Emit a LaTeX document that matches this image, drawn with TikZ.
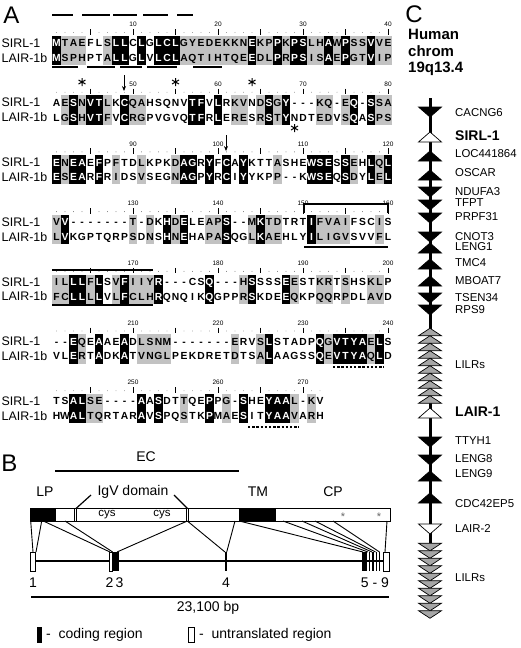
\documentclass[tikz,border=0pt]{standalone}
\usepackage{fontspec}
\setmainfont{Liberation Sans}
\usetikzlibrary{arrows.meta}
\tikzset{
  res/.style={font=\fontsize{10.3}{10}\selectfont\bfseries, inner sep=0pt, anchor=base},
  shadegray/.style={fill=black!24},
  lbl/.style={font=\fontsize{12.4}{12}\selectfont, inner sep=0pt, anchor=west},
  panel/.style={font=\fontsize{24}{24}\selectfont, inner sep=0pt},
  rnum/.style={font=\fontsize{6.5}{6.5}\selectfont, inner sep=0pt},
  bar/.style={line width=2.2pt},
  dotbar/.style={line width=2.6pt, dash pattern=on 2.4pt off 1.8pt},
  glbl/.style={font=\fontsize{11.4}{11.4}\selectfont, inner sep=0pt, anchor=west},
  gbold/.style={font=\fontsize{14}{14}\selectfont\bfseries, inner sep=0pt, anchor=west},
  btext/.style={font=\fontsize{14}{14}\selectfont, inner sep=0pt},
  chead/.style={font=\fontsize{15}{15}\selectfont\bfseries, inner sep=0pt, anchor=west},
  thinl/.style={line width=0.9pt},
}
\makeatletter
\newcount\cellidx
\def\popA#1#2\@nil{\def\chA{#1}\def\sA{#2}}
\def\popB#1#2\@nil{\def\chB{#1}\def\sB{#2}}
\def\popC#1#2\@nil{\def\chC{#1}\def\sC{#2}}
\newcommand\alnblock[5]{%
  \def\blkid{#1}\def\rowy{#2}\def\sA{#3}\def\sB{#4}\def\sC{#5}\global\cellidx=0
  \aln@loop}
\def\aln@loop{%
  \ifx\sA\@empty\else
    \expandafter\popA\sA\@nil
    \expandafter\popB\sB\@nil
    \expandafter\popC\sC\@nil
    \global\advance\cellidx by 1
    \aln@cell
    \expandafter\aln@loop
  \fi}
\def\aln@cell{%
  \pgfmathsetmacro\cx{56.5+(\the\cellidx-1)*8.5}%
  \pgfmathsetmacro\ry{\rowy+14.7}%
  \def\tc{black}%
  \if b\chC
    \fill[black] (\cx-4.25,\rowy-7.3) rectangle (\cx+4.25,\ry+7.3);
    \def\tc{white}%
  \fi
  \if g\chC
    \fill[shadegray] (\cx-4.25,\rowy-7.3) rectangle (\cx+4.25,\ry+7.3);
  \fi
  \if u\chC
    \fill[shadegray] (\cx-4.25,\rowy-7.3) rectangle (\cx+4.25,\rowy+7.35);
  \fi
  \if l\chC
    \fill[shadegray] (\cx-4.25,\ry-7.35) rectangle (\cx+4.25,\ry+7.3);
  \fi
  \node[res,text=\tc] (s\blkid-\the\cellidx) at (\cx,\rowy+3.7) {\chA};
  \node[res,text=\tc] (l\blkid-\the\cellidx) at (\cx,\ry+3.7) {\chB};
}
\makeatother
\newcommand\ruler[3]{% row1 y, start, ncols
  \foreach \i in {1,...,#3}{%
    \pgfmathtruncatemacro\num{#2+\i-1}%
    \pgfmathsetmacro\xx{56.5+(\i-1)*8.5}%
    \pgfmathtruncatemacro\mf{mod(\num,5)}%
    \pgfmathtruncatemacro\mt{mod(\num,10)}%
    \ifnum\mf=0
      \draw[line width=0.7pt] (\xx,#1-14) -- (\xx,#1-8.5);
    \else
      \fill[black!55] (\xx,#1-10.5) circle (0.45);
    \fi
    \ifnum\mt=0
      \node[rnum] (n\num) at (\xx,#1-18.5) {\num};
    \fi
  }}
\newcommand\astk[2]{%
  \draw[line width=1pt] (#1,#2-4) -- (#1,#2+4)
    (#1-3.5,#2-2) -- (#1+3.5,#2+2) (#1-3.5,#2+2) -- (#1+3.5,#2-2);}
\newcommand\ctri[4]{% y, d/u, fill, half-height
  \if d#2
    \filldraw[fill=#3,draw=black,line width=0.7pt,line join=miter] (418.5,#1-#4) -- (441.5,#1-#4) -- (430,#1+#4) -- cycle;
  \else
    \filldraw[fill=#3,draw=black,line width=0.7pt,line join=miter] (418.5,#1+#4) -- (441.5,#1+#4) -- (430,#1-#4) -- cycle;
  \fi}
\begin{document}
\begin{tikzpicture}[x=1pt,y=-1pt]
\useasboundingbox (0,0) rectangle (520,648);
\fill[white] (0,0) rectangle (520,648);

% ---------------- Panel A ----------------
\node[panel] (pa) at (11.5,15) {A};
% block 1
\ruler{43}{1}{40}
\alnblock{1}{43}{MTAEFLSLLCLGLCLGYEDEKKNEKPPKPSLHAWPSSVVE}{MSPHPTALLGLVLCLAQTIHTQEEDLPRPSISAEPGTVIP}{bgggnngbbnbnbbbggggggggbggbgbbggbgbggbgg}
\foreach \a/\b in {52/73,82/110,113/137,143/168,177/193} \draw[bar] (\a,15) -- (\b,15);
\foreach \a/\b in {52/78,87/115,120/142,147/177,193/222} \draw[bar] (\a,67) -- (\b,67);
% block 2
\ruler{102.7}{41}{40}
\alnblock{2}{102.7}{AESNVTLKCQAHSQNVTFVLRKVNDSGY---KQ-EQ-SSA}{LGSHVTFVCRGPVGVQTFRLERESRSTYNDTEDVSQASPS}{ngbgbbgnbggnnnnnbbnbnggngbgbnnnggngbnbgg}
\astk{82}{82}
\astk{175.5}{82}
\astk{252}{82}
\astk{294.5}{128}
\coordinate (ar1s) at (124,75);
\coordinate (ar1e) at (124,91);
\draw[line width=0.8pt,-{Stealth[length=5pt,width=4pt]}] (ar1s) -- (ar1e);
% block 3
\ruler{162.4}{81}{40}
\alnblock{3}{162.4}{ENEAEFPFTDLKPKDAGRYFCAYKTTASHEWSESSEHLQL}{ESEARFRIDSVSEGNAGPYRCIYYKPP--KWSEQSDYLEL}{bgbbnbngnngnnngbbnbnbnbnnngnnnbbbnbgnbgb}
\coordinate (ar2s) at (226,135);
\coordinate (ar2e) at (226,151);
\draw[line width=0.8pt,-{Stealth[length=5pt,width=4pt]}] (ar2s) -- (ar2e);
% block 4
\ruler{222.1}{121}{40}
\alnblock{4}{222.1}{VV-------T-DKHDELEAPS--MKTDTRTIFVAIFSCIS}{LVKGPTQRPSDNSHNEHAPASQGLKAEHLYILIGVSVVFL}{gbnnnnnnngngnbgbnnggbnngbggnnnbggggnnngn}
\draw[line width=1.6pt] (304,213) -- (304,204) -- (388,204) -- (388,213);
\draw[bar] (304,247) -- (388,247);
% block 5
\ruler{281.8}{161}{40}
\alnblock{5}{281.8}{ILLLFLSVFIIYR---CSQ---HSSSSEESTKRTSHSKLP}{FCLLLLVLFCLHRQNQIKQGPPRSKDEEQKPQQRPDLAVD}{ggbbgbngbgggbnnnnnbnnngbnnnbgnnggngnnggn}
\draw[bar] (52,270) -- (153,270);
\draw[bar] (52,305) -- (153,305);
% block 6
\ruler{341.5}{201}{40}
\alnblock{6}{341.5}{--EQEAAEADLSNM-------ERVSLSTADPQGVTYAELS}{VLERTADKATVNGLPEKDRETDTSALAAGSSQEVTYAQLD}{nnbgnbnnbnggggnnnnnnngnngbnnnnnbgbbbbgbn}
\draw[dotbar] (333,367) -- (383.5,367);
% block 7
\ruler{401.2}{241}{32}
\alnblock{7}{401.2}{TSALSE----AASDTTQEPPG-SHEYAAL-KV}{HWALTQRTARAVSPQSTKPMAESITYAAVARH}{nnbbggnnnnbnbnngnnbngnbnnbbbgngn}
\draw[dotbar] (248,427) -- (298.5,427);
% row labels
\foreach \k/\yy in {1/43,2/102.7,3/162.4,4/222.1,5/281.8,6/341.5,7/401.2}{
  \node[lbl] (ls\k) at (1.5,\yy) {SIRL-1};
  \node[lbl] (ll\k) at (1.5,\yy+14.7) {LAIR-1b};
}

% ---------------- Panel B ----------------
\node[panel] (pb) at (9.5,463) {B};
\node[btext] (ec) at (146,457) {EC};
\draw[line width=1.2pt] (55,471) -- (239,471);
\node[btext] (lp) at (45,492) {LP};
\node[btext] (igv) at (133,492) {IgV domain};
\node[btext] (tm) at (258,492) {TM};
\node[btext] (cp) at (333,492) {CP};
\coordinate (igl) at (76,508.5);
\coordinate (igr) at (187.5,508.5);
\draw[line width=1.2pt] (91,495) -- (igl);
\draw[line width=1.2pt] (174,495) -- (igr);
% protein bar
\fill[black] (30,508) rectangle (56,521);
\fill[black] (239,508) rectangle (276,521);
\draw[line width=1pt] (30,508) rectangle (390,521);
\draw[line width=0.9pt] (74,508) -- (74,521) (76.5,508) -- (76.5,521);
\draw[line width=0.9pt] (186,508) -- (186,521) (188.5,508) -- (188.5,521);
\node[font=\fontsize{11.5}{11.5}\selectfont, inner sep=0pt] (cys1) at (107,514.5) {cys};
\node[font=\fontsize{11.5}{11.5}\selectfont, inner sep=0pt] (cys2) at (162,514.5) {cys};
\node[font=\fontsize{11}{11}\selectfont, inner sep=0pt, text=black!60] (st1) at (343,517) {*};
\node[font=\fontsize{11}{11}\selectfont, inner sep=0pt, text=black!60] (st2) at (379,517) {*};
% gene
\draw[line width=2.6pt] (35,561) -- (383,561);
\filldraw[fill=white,draw=black,line width=0.9pt] (30.5,552) rectangle (35.5,571);
\filldraw[fill=white,draw=black,line width=0.9pt] (109.5,552) rectangle (112.3,571);
\fill[black] (112.3,552) rectangle (119,571);
\fill[black] (225,552) rectangle (227.3,571);
\fill[black] (361.7,552) rectangle (367.3,571);
\foreach \xx in {369.5,373,376.3,379.6} \fill[black] (\xx-0.7,552) rectangle (\xx+0.7,571);
\filldraw[fill=white,draw=black,line width=0.9pt] (383,552) rectangle (389.5,571);
% connectors protein -> gene
\foreach \a/\b in {30.7/33,41.7/36,43.3/110,65/112.7,187.3/117,187.3/225,235/226.7,239.3/363,283/368,302/372,315/375.5,333/379.5,387/385}
  \draw[thinl] (\a,521) -- (\b,552);
\node[btext] (e1) at (33,583) {1};
\node[btext] (e23) at (114.5,583) {2\,3};
\node[btext] (e4) at (226,583) {4};
\node[btext] (e59) at (375,583) {5 - 9};
\draw[line width=1.5pt] (31,597) -- (389,597);
\node[btext] (bp) at (208,608) {23,100 bp};
% legend
\fill[black] (36.7,627) rectangle (42.3,643);
\node[btext,anchor=west] (lg1) at (46,635) {-\ \ coding region};
\filldraw[fill=white,draw=black,line width=0.9pt] (188.5,627.5) rectangle (194,642.5);
\node[btext,anchor=west] (lg2) at (199,635) {-\ \ untranslated region};

% ---------------- Panel C ----------------
\node[panel] (pc) at (414,14) {C};
\node[chead] (h1) at (408,34) {Human};
\node[chead] (h2) at (408,51) {chrom};
\node[chead] (h3) at (408,69) {19q13.4};
\draw[line width=3pt] (430,98) -- (430,617);
\ctri{112}{d}{black}{5}
\ctri{137}{u}{white}{5}
\ctri{156}{u}{black}{5}
\ctri{175}{u}{black}{5}
\ctri{192}{d}{black}{5}
\ctri{205}{d}{black}{5}
\ctri{218}{d}{black}{5}
\ctri{237}{d}{black}{5}
\ctri{248}{u}{black}{5}
\ctri{264}{u}{black}{5}
\ctri{281}{u}{black}{5}
\ctri{298}{d}{black}{5}
\ctri{310}{d}{black}{5}
\foreach \k in {0,...,9} {\pgfmathsetmacro\yy{332+7.5*\k}\ctri{\yy}{u}{black!35}{3.8}}
\ctri{413}{u}{white}{5}
\ctri{442}{d}{black}{5}
\ctri{460}{d}{black}{5}
\ctri{476}{u}{black}{5}
\ctri{498}{u}{black}{5}
\ctri{529}{d}{white}{5}
\foreach \k in {0,...,9} {\pgfmathsetmacro\yy{547+7.5*\k}\ctri{\yy}{d}{black!35}{3.8}}
\node[glbl] (g1) at (455,113) {CACNG6};
\node[gbold] (g2) at (455,136) {SIRL-1};
\node[glbl] (g3) at (455,154) {LOC441864};
\node[glbl] (g4) at (455,173) {OSCAR};
\node[glbl] (g5) at (455,192) {NDUFA3};
\node[glbl] (g6) at (455,203) {TFPT};
\node[glbl] (g7) at (455,217) {PRPF31};
\node[glbl] (g8) at (455,237) {CNOT3};
\node[glbl] (g9) at (455,247) {LENG1};
\node[glbl] (g10) at (455,263) {TMC4};
\node[glbl] (g11) at (455,281) {MBOAT7};
\node[glbl] (g12) at (455,298) {TSEN34};
\node[glbl] (g13) at (455,310) {RPS9};
\node[glbl] (g14) at (455,365) {LILRs};
\node[gbold] (g15) at (455,412) {LAIR-1};
\node[glbl] (g16) at (455,441) {TTYH1};
\node[glbl] (g17) at (455,459) {LENG8};
\node[glbl] (g18) at (455,474) {LENG9};
\node[glbl] (g19) at (455,504) {CDC42EP5};
\node[glbl] (g20) at (455,529) {LAIR-2};
\node[glbl] (g21) at (455,578) {LILRs};
\end{tikzpicture}
\end{document}
